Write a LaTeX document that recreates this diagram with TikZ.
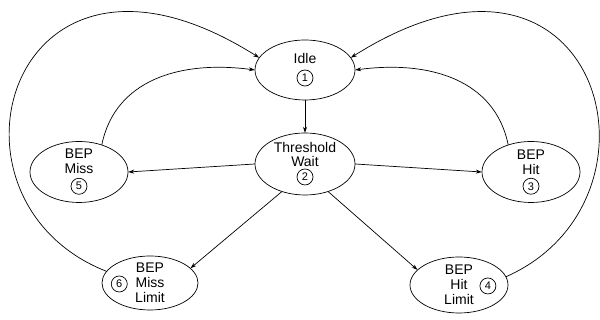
\documentclass[tikz,border=0pt]{standalone}
\usepackage{fontspec}
\setmainfont{Liberation Sans}
\usetikzlibrary{positioning,shapes.geometric,arrows.meta}
\newcommand{\cnum}[1]{\tikz[baseline=(cn.base)]\node[draw,circle,line width=0.7pt,inner sep=0pt,minimum size=16pt,font=\fontsize{11}{11}\selectfont](cn){#1};}

\begin{document}
\begin{tikzpicture}[x=1pt,y=1pt,
    line width=0.7pt,
    >={Stealth[length=6pt,width=4pt]},
    state/.style={ellipse,draw,inner sep=-4pt,align=center,
    font=\fontsize{14}{15}\selectfont}
    ]
\useasboundingbox (0,0) rectangle (600,320);

\node[state,minimum width=100pt,minimum height=60pt] (idle) at (305,250) {Idle\\[3pt]\cnum{1}};
\node[state,minimum width=100pt,minimum height=62pt,font=\fontsize{14}{14}\selectfont] (wait) at (305,156) {Threshold\\Wait\\[0pt]\cnum{2}};
\node[state,minimum width=98pt,minimum height=61pt] (miss) at (79,148) {BEP\\Miss\\[1pt]\cnum{5}};
\node[state,minimum width=98pt,minimum height=61pt] (hit) at (531,148) {BEP\\Hit\\[1pt]\cnum{3}};
\node[state,minimum width=96pt,minimum height=54pt] (misslim) at (150,37) {BEP\\\llap{\cnum{6}\hspace{8pt}}Miss\\Limit};
\node[state,minimum width=98pt,minimum height=56pt] (hitlim) at (459,35) {BEP\\Hit\rlap{\hspace{12pt}\cnum{4}}\\Limit};

\draw[->] (idle) -- (wait);
\draw[->] (wait.west) -- (miss.east);
\draw[->] (wait.east) -- (hit.west);
\draw[->] (wait.-130) -- (misslim.20);
\draw[->] (wait.-50) -- (hitlim.160);
\draw[->] (miss.50) .. controls (115,240) and (180,260) .. (idle.west);
\draw[->] (hit.130) .. controls (495,240) and (430,260) .. (idle.east);
\draw[->] (misslim.165) .. controls (-75,120) and (10,420) .. (idle.165);
\draw[->] (hitlim.10) .. controls (680,120) and (600,420) .. (idle.15);
\end{tikzpicture}
\end{document}
